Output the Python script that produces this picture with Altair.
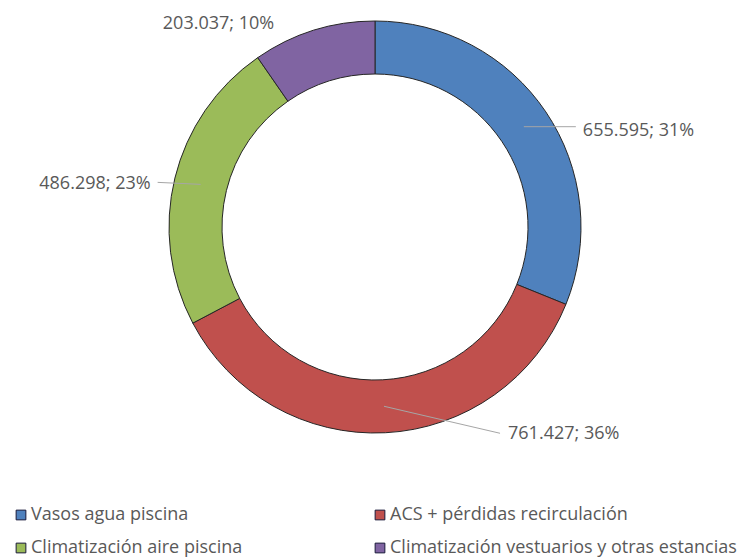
import math
import altair as alt
import pandas as pd

# ---- data ----
categories = [
    "Vasos agua piscina",
    "ACS + pérdidas recirculación",
    "Climatización aire piscina",
    "Climatización vestuarios y otras estancias",
]
values = [655595, 761427, 486298, 203037]
colors = ["#4F81BD", "#C0504D", "#9BBB59", "#8064A2"]
# legend reading order (grid is filled column by column)
legend_order = [0, 2, 1, 3]

# ---- layout (pixels, plot coords) ----
CX, CY = 367, 219
R_IN, R_OUT = 153, 206
R_MID = (R_IN + R_OUT) / 2
# offset of leader-line end from its start (None = no leader line), label gap and alignment
leader_end = [(52, 0), (116, 27), (-43, -2), None]
label_pos = [("left", 7, 4), ("left", 8, 1), ("right", -7, 2), ("center", -103, -32)]

total = sum(values)
rows = []
cum = 0
for i, (c, v) in enumerate(zip(categories, values)):
    mid = (cum + v / 2) / total * 2 * math.pi
    cum += v
    sx = CX + R_MID * math.sin(mid)
    sy = CY - R_MID * math.cos(mid)
    if leader_end[i] is not None:
        ex, ey = sx + leader_end[i][0], sy + leader_end[i][1]
        has_line = True
    else:
        ex, ey = sx, sy
        has_line = False
    align, gx, gy = label_pos[i]
    txt = f"{v:,}".replace(",", ".") + f"; {round(100 * v / total)}%"
    rows.append(dict(cat=c, val=v, idx=i, sx=sx, sy=sy, ex=ex, ey=ey,
                     lx=ex + gx, ly=ey + gy, align=align, label=txt, line=has_line))
df = pd.DataFrame(rows)

dom = [categories[k] for k in legend_order]
rng = [colors[k] for k in legend_order]
color_scale = alt.Scale(domain=dom, range=rng)

base = alt.Chart(df)

arcs = base.mark_arc(innerRadius=R_IN, outerRadius=R_OUT, stroke="#262626", strokeWidth=1).encode(
    theta=alt.Theta("val:Q", stack=True),
    order=alt.Order("idx:Q"),
    color=alt.Color(
        "cat:N",
        scale=color_scale,
        sort=dom,
        legend=alt.Legend(
            title=None,
            orient="none",
            legendX=4,
            legendY=498,
            columns=2,
            columnPadding=128,
            rowPadding=15,
            symbolType="square",
            symbolSize=95,
            symbolStrokeColor="#1a1a3a",
            symbolStrokeWidth=1,
            labelFont="Open Sans",
            labelFontSize=18,
            labelColor="#595959",
            labelOffset=1,
            labelLimit=400,
        ),
    ),
    x=alt.value(CX),
    y=alt.value(CY),
)

lines = base.transform_filter("datum.line").mark_rule(color="#A6A6A6", strokeWidth=1).encode(
    x=alt.X("sx:Q", scale=None),
    y=alt.Y("sy:Q", scale=None),
    x2="ex:Q",
    y2="ey:Q",
)

def text_layer(align):
    return base.transform_filter(f"datum.align == '{align}'").mark_text(
        align=align, baseline="middle", font="Open Sans", fontSize=18, color="#595959"
    ).encode(
        x=alt.X("lx:Q", scale=None),
        y=alt.Y("ly:Q", scale=None),
        text="label:N",
    )

chart = alt.layer(
    arcs, lines, text_layer("left"), text_layer("right"), text_layer("center")
).properties(
    width=730, height=550, padding=0, autosize=alt.AutoSizeParams(type="none")
).configure_view(stroke=None)

chart.save("out.html", embed_options={"renderer": "svg", "actions": False})
